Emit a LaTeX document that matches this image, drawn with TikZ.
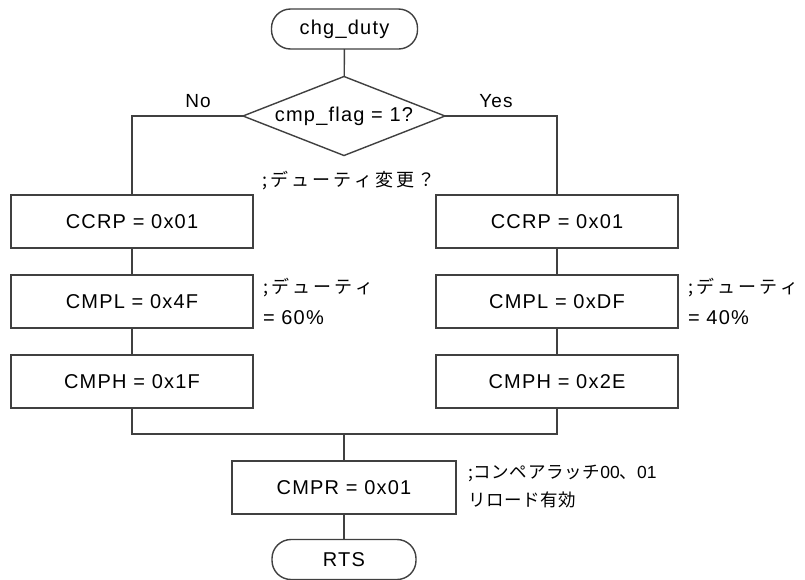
\documentclass[tikz,border=0pt]{standalone}
\usepackage{fontspec}
\setmainfont{Liberation Sans}
\newfontfamily\lat[LetterSpace=6]{Liberation Sans}
\newfontfamily\latn{Liberation Sans}
\newfontfamily\ja[LetterSpace=18]{Noto Sans CJK JP}
\newfontfamily\jan[LetterSpace=4]{Noto Sans CJK JP}
\usetikzlibrary{shapes.geometric}
\definecolor{ln}{HTML}{404040}
\begin{document}
\begin{tikzpicture}[x=1pt,y=-1pt,
  every node/.style={inner sep=0pt, outer sep=0pt},
  line/.style={draw=ln, line width=1.4pt},
  proc/.style={line, rectangle, minimum width=242pt, minimum height=53pt, font=\lat\fontsize{20}{22}\selectfont},
  term/.style={line, rectangle, rounded corners=19pt, minimum width=146pt, minimum height=40pt, font=\lat\fontsize{20}{22}\selectfont},
  dec/.style={line, diamond, aspect=2.56, minimum width=202pt, minimum height=79pt, font=\lat\fontsize{20}{22}\selectfont},
  lbl/.style={font=\lat\fontsize{19}{22}\selectfont},
  cmt/.style={anchor=west, font=\ja\fontsize{18}{20}\selectfont},
  cmtn/.style={anchor=west, font=\jan\fontsize{17.5}{20}\selectfont},
  cmtl/.style={anchor=west, font=\lat\fontsize{20}{22}\selectfont}]
\useasboundingbox (0,0) rectangle (805,579);
\fill[white] (0,0) rectangle (805,579);

\node[term] (start) at (344.5,29) {chg\_duty};
\node[dec] (dec) at (344,116) {cmp\_flag = 1?};
\node[lbl] (no) at (198,101) {No};
\node[lbl] (yes) at (496,101) {Yes};

\node[proc] (l1) at (132,221.5) {CCRP = 0x01};
\node[proc] (l2) at (132,301.5) {CMPL = 0x4F};
\node[proc] (l3) at (132,381.5) {CMPH = 0x1F};
\node[proc] (r1) at (557,221.5) {CCRP = 0x01};
\node[proc] (r2) at (557,301.5) {CMPL = 0xDF};
\node[proc] (r3) at (557,381.5) {CMPH = 0x2E};

\coordinate (j) at (344,434);
\node[proc, minimum width=224pt] (cmpr) at (344,487.5) {CMPR = 0x01};
\node[term, minimum width=144pt] (rts) at (344,559.5) {RTS};

\node[cmt] (c0) at (262,181) {;デューティ変更？};
\node[cmt] (c1a) at (263,288) {;デューティ};
\node[cmtl] (c1b) at (263,318) {= 60\%};
\node[cmt] (c2a) at (688,288) {;デューティ};
\node[cmtl] (c2b) at (688,318) {= 40\%};
\node[cmtn] (c3a) at (468,473) {;コンペアラッチ{\latn 00}、{\latn 01}};
\node[cmtn] (c3b) at (468,500) {リロード有効};

\draw[line] (start) -- (dec);
\draw[line] (dec.west) -| (l1.north);
\draw[line] (dec.east) -| (r1.north);
\draw[line] (l1) -- (l2);
\draw[line] (l2) -- (l3);
\draw[line] (r1) -- (r2);
\draw[line] (r2) -- (r3);
\draw[line] (l3.south) |- (j);
\draw[line] (r3.south) |- (j);
\draw[line] (j) -- (cmpr.north);
\draw[line] (cmpr) -- (rts);
\end{tikzpicture}
\end{document}
